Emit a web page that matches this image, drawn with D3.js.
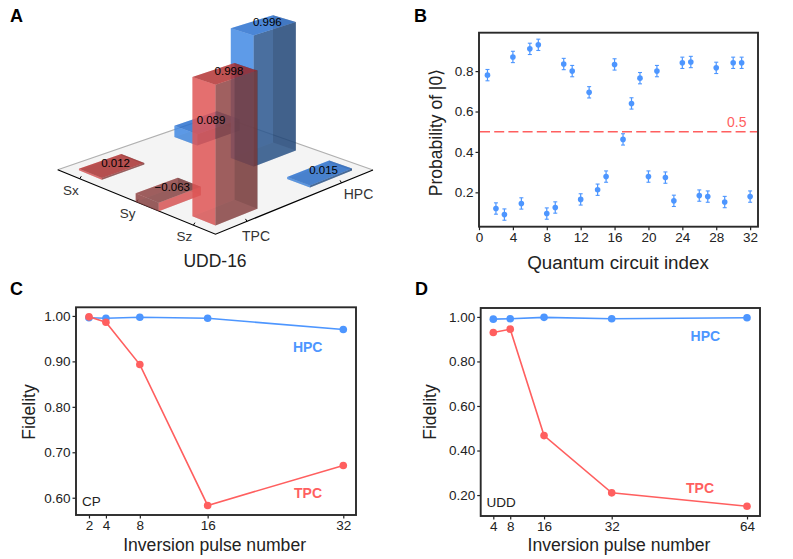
<!DOCTYPE html>
<html>
<head>
<meta charset="utf-8">
<script src="https://d3js.org/d3.v7.min.js"></script>
<style>
body { margin: 0; background: #fff; }
text { font-family: "Liberation Sans", Arial, sans-serif; fill: #222; }
.axis path, .axis line { stroke: #222; stroke-width: 1.2; }
.axis text { font-size: 13.5px; fill: #222; }
</style>
</head>
<body>
<svg id="fig" width="793" height="559"></svg>
<script>
'use strict';

// panel A
var rowLabels = ['Sx', 'Sy', 'Sz'];
var colLabels = ['TPC', 'HPC'];
var tpcBars = [0.012, -0.063, 0.998];
var hpcBars = [0.089, 0.996, 0.015];
var tpcBarText = ['0.012', '\u22120.063', '0.998'];
var hpcBarText = ['0.089', '0.996', '0.015'];

// panel B
var circuitIndex = d3.range(1, 33);
var probZero = [0.78, 0.12, 0.09, 0.87, 0.145, 0.91, 0.93, 0.095, 0.125, 0.835, 0.80, 0.165,
                0.695, 0.213, 0.278, 0.833, 0.462, 0.64, 0.765, 0.278, 0.80, 0.273, 0.158, 0.841,
                0.845, 0.184, 0.179, 0.816, 0.152, 0.841, 0.841, 0.179];
var probErr = 0.028;
var probTicksX = [0, 4, 8, 12, 16, 20, 24, 28, 32];
var probTicksY = [0.2, 0.4, 0.6, 0.8];

// panel C
var cpPulses = [2, 4, 8, 16, 32];
var cpHpc = [0.996, 0.995, 0.997, 0.995, 0.970];
var cpTpc = [0.998, 0.986, 0.893, 0.583, 0.671];
var cpTicksY = [0.6, 0.7, 0.8, 0.9, 1.0];

// panel D
var uddPulses = [4, 8, 16, 32, 64];
var uddHpc = [0.990, 0.992, 0.998, 0.992, 0.996];
var uddTpc = [0.930, 0.945, 0.467, 0.210, 0.150];
var uddTicksY = [0.2, 0.4, 0.6, 0.8, 1.0];

var BLUE = '#4d96ff';
var RED = '#ff5f5f';

var svg = d3.select('#fig');

function addText(x, y, str, size, opts) {
    opts = opts || {};
    var t = svg.append('text')
        .attr('x', x)
        .attr('y', y)
        .attr('text-anchor', opts.anchor || 'middle')
        .style('font-size', size + 'px')
        .text(str);
    if (opts.bold) t.style('font-weight', 'bold');
    if (opts.color) t.style('fill', opts.color);
    if (opts.rotate) t.attr('transform', 'rotate(-90,' + x + ',' + y + ')');
    return t;
}

addText(10, 22, 'A', 18, {anchor: 'start', bold: true, color: '#000'});
addText(414, 22, 'B', 18, {anchor: 'start', bold: true, color: '#000'});
addText(10, 295, 'C', 18, {anchor: 'start', bold: true, color: '#000'});
addText(415, 295, 'D', 18, {anchor: 'start', bold: true, color: '#000'});

// ---------- panel A: 3d bars ----------
var corner = {
    left: [57.7, 169.7],
    bottom: [215.5, 234.2],
    right: [373, 170],
    back: [217, 115]
};
var uScale = d3.scalePoint().domain(rowLabels).range([0.14, 0.86]);
var vScale = d3.scalePoint().domain(colLabels).range([0.2, 0.8]);
// bars further back are drawn a little shorter
var heightScale = d3.scaleLinear().domain([150, 225]).range([129, 141]);

function project(u, v, z) {
    var x = (1 - u) * (1 - v) * corner.left[0] + u * (1 - v) * corner.bottom[0] + u * v * corner.right[0] + (1 - u) * v * corner.back[0];
    var y = (1 - u) * (1 - v) * corner.left[1] + u * (1 - v) * corner.bottom[1] + u * v * corner.right[1] + (1 - u) * v * corner.back[1];
    return [x, y - z * heightScale(y)];
}

var line3d = d3.line();
var gA = svg.append('g');

gA.append('path')
    .attr('d', line3d([corner.left, corner.bottom, corner.right, corner.back]) + 'Z')
    .attr('fill', '#f4f4f4');
gA.append('path')
    .attr('d', line3d([corner.left, corner.back, corner.right]))
    .attr('fill', 'none').attr('stroke', '#b0b0b0').attr('stroke-width', 1.2);
gA.append('path')
    .attr('d', line3d([corner.left, corner.bottom, corner.right]))
    .attr('fill', 'none').attr('stroke', '#000').attr('stroke-width', 1.2);

rowLabels.forEach(function(name) {
    var p = project(uScale(name), 0, 0);
    gA.append('line').attr('x1', p[0]).attr('y1', p[1]).attr('x2', p[0] + 1.5).attr('y2', p[1] - 2.5).attr('stroke', '#000');
    addText(p[0] - 9, p[1] + 16, name, 13.5, {color: '#333'});
});
var colLabelDx = {TPC: 9, HPC: 17}, colLabelDy = {TPC: 20, HPC: 16};
colLabels.forEach(function(name) {
    var p = project(1, vScale(name), 0);
    gA.append('line').attr('x1', p[0]).attr('y1', p[1]).attr('x2', p[0] - 1.5).attr('y2', p[1] - 2.5).attr('stroke', '#000');
    addText(p[0] + colLabelDx[name], p[1] + colLabelDy[name], name, 14, {color: '#333'});
});

var tones = {
    TPC: {top: '#ab2b2b', negTop: '#833e3e', left: '#de5252', right: '#833e3e', backL: '#e87070', backR: '#110202'},
    HPC: {top: '#246bcb', negTop: '#234c82', left: '#3d87e3', right: '#234c82', backL: '#5e9be8', backR: '#071128'}
};
var barW = 0.073, barD = 0.133;
var bars = [];
rowLabels.forEach(function(r, i) {
    bars.push({row: r, col: 'TPC', value: tpcBars[i], label: tpcBarText[i]});
    bars.push({row: r, col: 'HPC', value: hpcBars[i], label: hpcBarText[i]});
});
bars.sort(function(a, b) {
    return (vScale(b.col) - uScale(b.row)) - (vScale(a.col) - uScale(a.row));
});

bars.forEach(function(d) {
    var u0 = uScale(d.row) - barW, u1 = uScale(d.row) + barW;
    var v0 = vScale(d.col) - barD, v1 = vScale(d.col) + barD;
    var z0 = Math.min(0, d.value), z1 = Math.max(0, d.value);
    var c = tones[d.col];
    var neg = d.value < 0;
    var faces = [
        {fill: c.right, a: 0.3, pts: [[u0, v0, z0], [u1, v0, z0], [u1, v1, z0], [u0, v1, z0]]},
        {fill: c.backR, a: 0.4, pts: [[u0, v1, z0], [u1, v1, z0], [u1, v1, z1], [u0, v1, z1]]},
        {fill: c.backL, a: 0.4, pts: [[u0, v0, z0], [u0, v1, z0], [u0, v1, z1], [u0, v0, z1]]},
        {fill: neg ? c.right : c.left, a: 0.75, pts: [[u0, v0, z0], [u1, v0, z0], [u1, v0, z1], [u0, v0, z1]]},
        {fill: neg ? c.left : c.right, a: 0.75, pts: [[u1, v0, z0], [u1, v1, z0], [u1, v1, z1], [u1, v0, z1]]},
        {fill: neg ? c.negTop : c.top, a: 0.75, pts: [[u0, v0, z1], [u1, v0, z1], [u1, v1, z1], [u0, v1, z1]]}
    ];
    faces.forEach(function(f) {
        gA.append('path')
            .attr('d', line3d(f.pts.map(function(p) { return project(p[0], p[1], p[2]); })) + 'Z')
            .attr('fill', f.fill)
            .attr('fill-opacity', f.a);
    });
});

bars.forEach(function(d) {
    var p = project(uScale(d.row), vScale(d.col), Math.max(0, d.value));
    addText(p[0] + 4, p[1] + 1, d.label, 11.5, {color: '#000'});
});

addText(215, 267, 'UDD-16', 17.5);

// ---------- shared frame + axes ----------
function makePanel(box, xDomain, yDomain, xTicks, yTicks, yFormat) {
    var x = d3.scaleLinear().domain(xDomain).range([box.x0, box.x1]);
    var y = d3.scaleLinear().domain(yDomain).range([box.y1, box.y0]);
    svg.append('g').attr('class', 'axis')
        .attr('transform', 'translate(0,' + box.y1 + ')')
        .call(d3.axisBottom(x).tickValues(xTicks).tickSize(3.5).tickSizeOuter(0).tickPadding(2))
        .select('.domain').remove();
    svg.append('g').attr('class', 'axis')
        .attr('transform', 'translate(' + box.x0 + ',0)')
        .call(d3.axisLeft(y).tickValues(yTicks).tickSize(3.5).tickSizeOuter(0).tickPadding(2).tickFormat(d3.format(yFormat)))
        .select('.domain').remove();
    svg.append('rect')
        .attr('x', box.x0).attr('y', box.y0)
        .attr('width', box.x1 - box.x0).attr('height', box.y1 - box.y0)
        .attr('fill', 'none').attr('stroke', '#2a2a2a').attr('stroke-width', 1.9);
    return {x: x, y: y};
}

// ---------- panel B ----------
var pB = makePanel({x0: 479, x1: 758, y0: 32.7, y1: 226.7}, [0, 32.93], [0.03, 0.99], probTicksX, probTicksY, '.1f');

svg.append('line')
    .attr('x1', 480).attr('x2', 757)
    .attr('y1', pB.y(0.5)).attr('y2', pB.y(0.5))
    .attr('stroke', RED).attr('stroke-width', 1.4).attr('stroke-dasharray', '10,4.2');
addText(736.7, 127, '0.5', 14, {color: RED});

var errs = svg.append('g').selectAll('g')
    .data(circuitIndex)
    .enter().append('g')
    .attr('transform', function(d) { return 'translate(' + pB.x(d) + ',0)'; });
errs.append('line')
    .attr('y1', function(d, i) { return pB.y(probZero[i] - probErr); })
    .attr('y2', function(d, i) { return pB.y(probZero[i] + probErr); })
    .attr('stroke', BLUE).attr('stroke-width', 1.2);
errs.append('line')
    .attr('x1', -2).attr('x2', 2)
    .attr('y1', function(d, i) { return pB.y(probZero[i] - probErr); })
    .attr('y2', function(d, i) { return pB.y(probZero[i] - probErr); })
    .attr('stroke', BLUE).attr('stroke-width', 1.1);
errs.append('line')
    .attr('x1', -2).attr('x2', 2)
    .attr('y1', function(d, i) { return pB.y(probZero[i] + probErr); })
    .attr('y2', function(d, i) { return pB.y(probZero[i] + probErr); })
    .attr('stroke', BLUE).attr('stroke-width', 1.1);
errs.append('circle')
    .attr('cy', function(d, i) { return pB.y(probZero[i]); })
    .attr('r', 2.8)
    .attr('fill', BLUE);

addText(618, 269, 'Quantum circuit index', 18.8);
addText(442, 132.5, 'Probability of |0\u27E9', 17.5, {rotate: true});

// ---------- panels C and D ----------
function drawSeries(p, xs, ys, color) {
    var path = d3.line()
        .x(function(d, i) { return p.x(xs[i]); })
        .y(function(d) { return p.y(d); });
    svg.append('path')
        .attr('d', path(ys))
        .attr('fill', 'none').attr('stroke', color).attr('stroke-width', 1.6);
    svg.append('g').selectAll('circle')
        .data(ys)
        .enter().append('circle')
        .attr('cx', function(d, i) { return p.x(xs[i]); })
        .attr('cy', function(d) { return p.y(d); })
        .attr('r', 3.8)
        .attr('fill', color);
}

var pC = makePanel({x0: 76, x1: 356, y0: 307.3, y1: 515}, [0.47, 33.5], [0.562, 1.019], cpPulses, cpTicksY, '.2f');
drawSeries(pC, cpPulses, cpHpc, BLUE);
drawSeries(pC, cpPulses, cpTpc, RED);
addText(307.7, 352, 'HPC', 14, {bold: true, color: BLUE});
addText(308, 498, 'TPC', 14, {bold: true, color: RED});
addText(82, 506, 'CP', 13.5, {anchor: 'start'});
addText(214.6, 551, 'Inversion pulse number', 17.6);
addText(35, 412, 'Fidelity', 17.5, {rotate: true});

var pD = makePanel({x0: 480.7, x1: 760, y0: 308, y1: 516}, [1.02, 67.07], [0.106, 1.04], uddPulses, uddTicksY, '.2f');
drawSeries(pD, uddPulses, uddHpc, BLUE);
drawSeries(pD, uddPulses, uddTpc, RED);
addText(705.3, 341, 'HPC', 14, {bold: true, color: BLUE});
addText(700, 493, 'TPC', 14, {bold: true, color: RED});
addText(486.5, 506.5, 'UDD', 13.5, {anchor: 'start'});
addText(619, 551, 'Inversion pulse number', 17.6);
addText(436, 412, 'Fidelity', 17.5, {rotate: true});
</script>
</body>
</html>
